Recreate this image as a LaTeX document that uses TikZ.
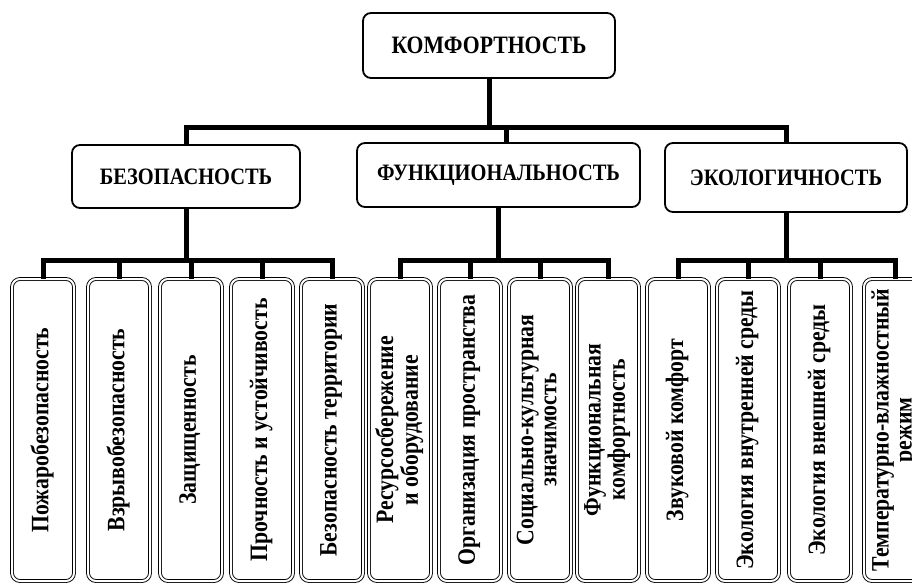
\documentclass[tikz,border=0pt]{standalone}
\usepackage{fontspec}
\setmainfont{Liberation Serif}[FakeStretch=0.87]
\usetikzlibrary{calc}
\tikzset{snug/.style={inner sep=0pt},
  head/.style={draw, line width=1.8pt, rounded corners=8pt, fill=white,
    font=\fontsize{23.5}{25}\selectfont\bfseries},
  leaf/.style={draw, double, double distance=2pt, line width=0.9pt,
    rounded corners=8pt, fill=white, minimum width=62pt, minimum height=302pt,
    font=\fontsize{25}{23}\selectfont\bfseries},
  link/.style={line width=5pt}}
\newcommand{\vtext}[1]{\rotatebox{90}{\begin{tabular}{@{}c@{}}#1\end{tabular}}}

\begin{document}
\begin{tikzpicture}[x=1pt, y=-1pt, style=snug]
  \useasboundingbox (0,0) rectangle (912,585);
  \node at (489,45.5) [head, minimum width=252pt, minimum height=65pt,
    font=\fontsize{25}{27}\selectfont\bfseries] (top) {КОМФОРТНОСТЬ};

  \node at (186,176.5) [head, minimum width=228pt, minimum height=63pt] (b1) {БЕЗОПАСНОСТЬ};
  \node at (498.5,175) [head, minimum width=283pt, minimum height=64pt] (b2) {ФУНКЦИОНАЛЬНОСТЬ};
  \node at (786,177.5) [head, minimum width=242pt, minimum height=69pt] (b3) {ЭКОЛОГИЧНОСТЬ};

  \foreach \num / \dx in {1/0, 2/8, 3/0} {
    \draw[link] (top.south) -- ++(0,49) -| ($ (b\num.north) + (\dx,0) $);
  }

  \foreach \xx / \num / \up / \txt in {
      43/1/1/{Пожаробезопасность},
      119/2/1/{Взрывобезопасность},
      191/3/1/{Защищенность},
      262/4/1/{Прочность и устойчивость},
      332/5/1/{Безопасность территории},
      400/6/2/{Ресурсосбережение\\и оборудование},
      470/7/2/{Организация пространства},
      540/8/2/{Социально-культурная\\значимость},
      608/9/2/{Функциональная\\комфортность},
      678/10/3/{Звуковой комфорт},
      748/11/3/{Экология внутренней среды},
      820/12/3/{Экология внешней среды},
      895/13/3/{Температурно-влажностный\\режим}} {
    \node at (\xx,430) [leaf] (l\num) {\vtext{\txt}};
    \draw[link] (b\up.south) -- (b\up.south |- 0,260) -| (l\num.north);
  }
\end{tikzpicture}
\end{document}
